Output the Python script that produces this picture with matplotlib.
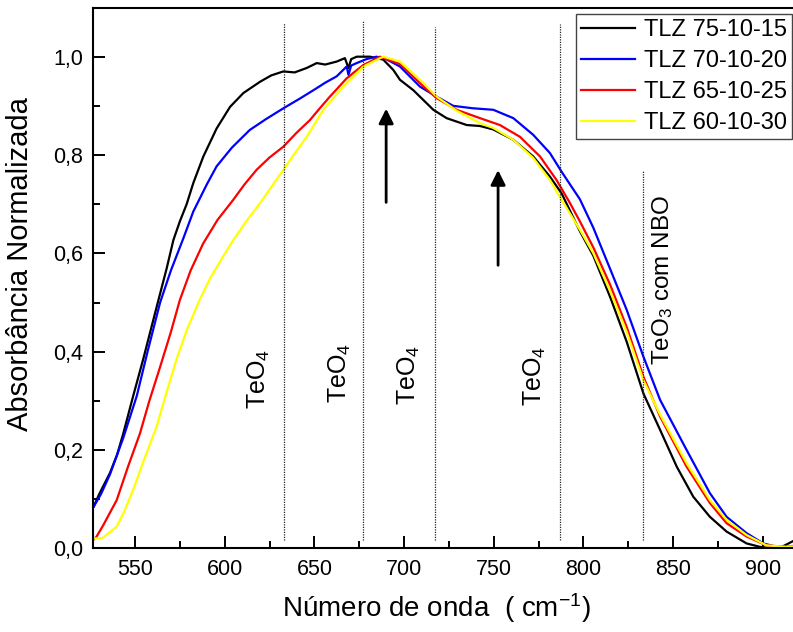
import matplotlib
matplotlib.use("Agg")
import matplotlib.pyplot as plt
from matplotlib.ticker import MultipleLocator, FuncFormatter

plt.rcParams['font.family'] = ['Liberation Sans', 'DejaVu Sans']
plt.rcParams['mathtext.fontset'] = 'custom'
plt.rcParams['mathtext.rm'] = 'Liberation Sans'
plt.rcParams['mathtext.it'] = 'Liberation Sans:italic'

# dados (numero de onda em cm-1, absorbancia normalizada)
x_75 = [527, 530, 536, 540, 543.5, 549, 554.6, 562, 567.7, 571.4, 575, 578.8, 582.5, 588.1,
        595.5, 603, 610.4, 619.7, 626, 632.7, 639, 645.7, 651.3, 656, 662.4, 667, 669, 670.5,
        673.6, 681, 688.4, 694, 697.7, 705.1, 716.3, 723.7, 734.9, 742.3, 749.7, 760.9,
        772, 781.3, 787.8, 798, 805.5, 815, 824.1, 833.4, 842.7, 852, 861.2, 870.5,
        879.8, 890.9, 898.3, 905, 910, 913.3, 917]
y_75 = [0.085, 0.11, 0.153, 0.19, 0.234, 0.31, 0.385, 0.49, 0.57, 0.627, 0.665, 0.70, 0.743,
        0.797, 0.854, 0.898, 0.926, 0.949, 0.962, 0.970, 0.968, 0.977, 0.987, 0.984, 0.990,
        0.997, 0.977, 0.995, 1.0, 1.0, 0.994, 0.973, 0.953, 0.932, 0.892, 0.875, 0.861,
        0.859, 0.852, 0.831, 0.797, 0.756, 0.722, 0.645, 0.595, 0.51, 0.42, 0.315, 0.241,
        0.166, 0.105, 0.064, 0.034, 0.010, 0.003, 0.0, 0.002, 0.008, 0.015]

x_70 = [527, 531, 536, 543.5, 551, 557, 564, 570, 576.9, 582.5, 590, 595.5, 604, 614, 623,
        632.7, 642, 651.3, 656, 662.4, 668, 669, 670.5, 673.6, 679, 684.7, 690, 697.7,
        708.9, 718, 727.4, 738.5, 749.7, 760.9, 772, 781.3, 787.8, 798, 805.5, 815, 824.1,
        833.4, 842.7, 857.5, 870.5, 879.8, 890.9, 900.2, 907.6, 917]
y_70 = [0.085, 0.11, 0.15, 0.225, 0.31, 0.40, 0.50, 0.565, 0.63, 0.685, 0.74, 0.777,
        0.815, 0.851, 0.873, 0.895, 0.915, 0.936, 0.947, 0.96, 0.98, 0.963, 0.982, 0.987,
        0.995, 1.0, 0.995, 0.98, 0.939, 0.919, 0.90, 0.895, 0.892, 0.875, 0.841, 0.804,
        0.766, 0.71, 0.652, 0.567, 0.485, 0.39, 0.302, 0.2, 0.112, 0.064, 0.031, 0.010,
        0.003, 0.003]

x_65 = [527, 528.6, 532.3, 539.8, 546, 552.8, 558, 564, 570, 575, 581, 588, 596, 604.8,
        611, 617.8, 625, 632.7, 640, 647.5, 653, 658.7, 664, 668, 669.5, 671, 677.3, 686.6,
        697.7, 708.9, 718, 729.3, 742.3, 753.4, 764.6, 775.8, 785, 792.5, 798, 805.5, 815,
        824.1, 833.4, 842.7, 857.5, 870.5, 879.8, 890.9, 902, 913, 917]
y_65 = [0.018, 0.024, 0.047, 0.098, 0.165, 0.234, 0.30, 0.369, 0.44, 0.505, 0.565, 0.62,
        0.668, 0.709, 0.74, 0.77, 0.795, 0.817, 0.845, 0.871, 0.895, 0.919, 0.94, 0.956,
        0.96, 0.965, 0.983, 1.0, 0.985, 0.946, 0.916, 0.892, 0.875, 0.861, 0.837, 0.797,
        0.749, 0.702, 0.665, 0.612, 0.535, 0.45, 0.349, 0.268, 0.166, 0.092, 0.051, 0.024,
        0.006, 0.003, 0.005]

x_60 = [527, 532, 535, 539.8, 544, 549, 555, 562, 567, 573, 579, 586, 592, 599, 604.8, 612,
        619.7, 626, 632.7, 639, 645.7, 655, 666, 677.3, 688.4, 697.7, 708.9, 718, 729.3,
        742.3, 749.7, 760.9, 772, 781.3, 787.8, 798, 805.5, 815, 824.1, 833.4, 842.7,
        857.5, 870.5, 879.8, 890.9, 902, 913, 917]
y_60 = [0.020, 0.021, 0.030, 0.044, 0.075, 0.119, 0.18, 0.247, 0.31, 0.383, 0.445, 0.505,
        0.55, 0.593, 0.627, 0.665, 0.702, 0.735, 0.770, 0.803, 0.837, 0.892, 0.939, 0.980,
        1.0, 0.99, 0.953, 0.919, 0.89, 0.865, 0.855, 0.831, 0.794, 0.749, 0.709, 0.648,
        0.60, 0.522, 0.44, 0.342, 0.272, 0.173, 0.098, 0.058, 0.027, 0.006, 0.003, 0.004]

series = [(x_75, y_75, 'black', 'TLZ 75-10-15'),
          (x_70, y_70, '#0000ff', 'TLZ 70-10-20'),
          (x_65, y_65, '#ff0000', 'TLZ 65-10-25'),
          (x_60, y_60, '#ffff00', 'TLZ 60-10-30')]

# linhas verticais pontilhadas (posicao, topo)
vlines_x = [633, 677, 717, 787, 833]
vlines_top = [1.068, 1.072, 1.06, 1.066, 0.77]

labels_txt = ['TeO$_\\mathregular{4}$', 'TeO$_\\mathregular{4}$', 'TeO$_\\mathregular{4}$',
              'TeO$_\\mathregular{4}$', 'TeO$_\\mathregular{3}$ com NBO']
labels_x = [619, 664, 702.5, 773, 844]
labels_y = [0.344, 0.357, 0.353, 0.35, 0.546]
labels_fs = [18, 18, 18, 18, 17.5]

arrows_x = [690, 752.4]
arrows_tail = [0.698, 0.570]
arrows_head = [0.90, 0.775]

fig = plt.figure(figsize=(7.93, 6.32), dpi=100)
ax = fig.add_axes([0.1173, 0.1324, 0.8827, 0.8557])

for xs, ys, c, lab in series:
    ax.plot(xs, ys, color=c, lw=1.6, label=lab)

for xv, top in zip(vlines_x, vlines_top):
    ax.plot([xv, xv], [0.017, top], color='#222222', lw=0.9, ls=(0, (1, 1)))

for t, xt, yt, fs in zip(labels_txt, labels_x, labels_y, labels_fs):
    ax.text(xt, yt, t, rotation=90, ha='center', va='center', fontsize=fs)

for xa, y0, y1 in zip(arrows_x, arrows_tail, arrows_head):
    ax.annotate('', xy=(xa, y1), xytext=(xa, y0),
                arrowprops=dict(arrowstyle='-|>', color='black', lw=2, mutation_scale=22))

ax.set_xlim(526.6, 916.8)
ax.set_ylim(0, 1.1)
ax.xaxis.set_major_locator(MultipleLocator(50))
ax.xaxis.set_minor_locator(MultipleLocator(25))
ax.yaxis.set_major_locator(MultipleLocator(0.2))
ax.yaxis.set_minor_locator(MultipleLocator(0.1))
ax.yaxis.set_major_formatter(FuncFormatter(lambda v, p: ('%.1f' % v).replace('.', ',')))

ax.tick_params(which='both', direction='in', width=1.4, labelsize=15.5)
ax.tick_params(which='major', length=8.5)
ax.tick_params(which='minor', length=5)
ax.tick_params(axis='x', pad=8)
ax.tick_params(axis='y', pad=7)
for s in ['left', 'bottom', 'top']:
    ax.spines[s].set_linewidth(1.5)
ax.spines['right'].set_visible(False)

ax.set_xlabel('Número de onda  ( cm$^\\mathregular{-1}$)', fontsize=20)
ax.set_ylabel('Absorbância Normalizada', fontsize=21)
ax.xaxis.set_label_coords(0.49, -0.079)
ax.yaxis.set_label_coords(-0.085, 0.525)

leg = ax.legend(loc='upper right', bbox_to_anchor=(0.9985, 0.988), borderaxespad=0,
                fontsize=17, frameon=True, fancybox=False, framealpha=1,
                edgecolor='#444444', handlelength=2.3, handletextpad=0.35,
                labelspacing=0.38, borderpad=0.22)
leg.get_frame().set_linewidth(1.0)

fig.savefig('out.png', dpi=100)
